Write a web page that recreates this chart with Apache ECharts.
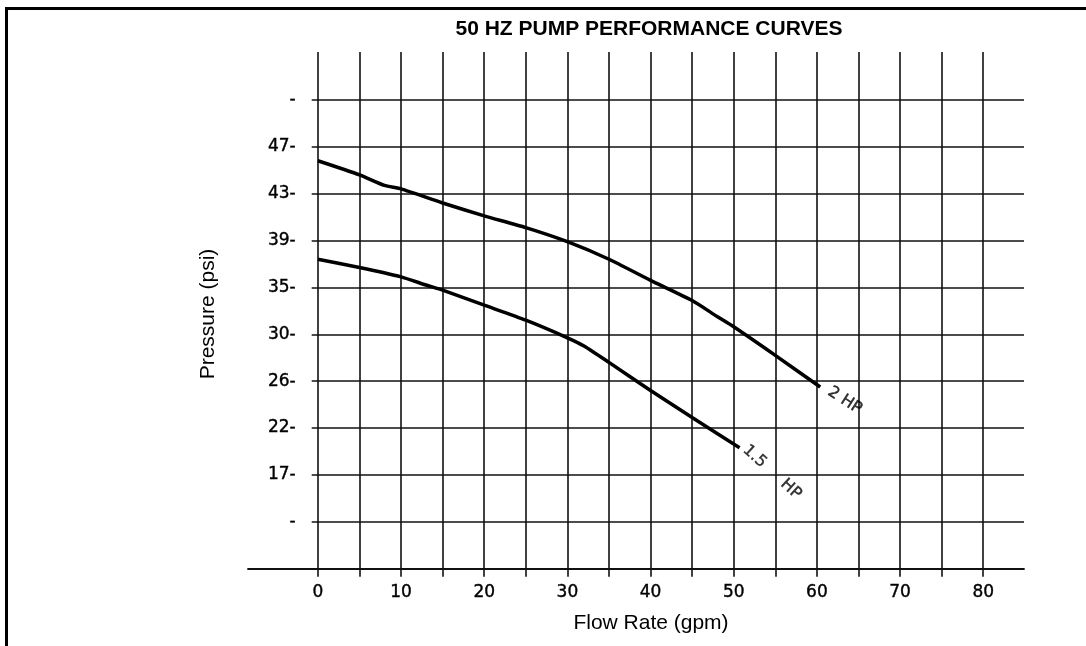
<!DOCTYPE html>
<html><head><meta charset="utf-8">
<script src="https://cdn.jsdelivr.net/npm/echarts@6/dist/echarts.min.js"></script>
<style>
html,body{margin:0;padding:0;background:#fff;}
#wrap{position:relative;width:1086px;height:646px;overflow:hidden;background:#fff;}
#c{position:absolute;left:0;top:0;width:1086px;height:646px;}
#frame{position:absolute;left:5px;top:7px;width:1200px;height:800px;border-left:3px solid #000;border-top:3px solid #000;pointer-events:none;}
</style>
</head><body>
<div id="wrap"><div id="c"></div><div id="frame"></div></div>
<script>
// ---- data ----
const titleText = '50 HZ PUMP PERFORMANCE CURVES';
const xName = 'Flow Rate (gpm)';
const yName = 'Pressure (psi)';
const xTickValues = [0,5,10,15,20,25,30,35,40,45,50,55,60,65,70,75,80];
const xLabelValues = [0,10,20,30,40,50,60,70,80];
const yRows = [0,1,2,3,4,5,6,7,8,9,10];
const yTickLabels = ['', '-', '17-', '22-', '26-', '30-', '35-', '39-', '43-', '47-', '-'];
const yTickPsi = [17,22,26,30,35,39,43,47];   // psi values printed on rows 2..9
const yTickRowStart = 2;

const flow2hp = [0, 5, 8, 10, 15, 20, 25, 30, 35, 40, 45, 48, 50, 55, 60.4];
const psi2hp  = [45.8, 44.6, 43.7, 43.4, 42.2, 41.1, 40.1, 38.9, 37.4, 35.6, 33.6, 31.9, 30.8, 28.2, 25.5];
const flow15hp = [0, 5, 10, 13, 15, 20, 25, 30, 32, 35, 40, 45, 50.7];
const psi15hp  = [37.4, 36.7, 35.9, 35.2, 34.7, 33.1, 31.5, 29.7, 29.0, 27.6, 25.2, 22.9, 19.9];
const label2hp = '2 HP';
const label15hp = '1.5     HP';

// psi -> row position on the (non-linear) printed pressure scale
function psiToRow(p) {
  for (let i = 0; i < yTickPsi.length - 1; i++) {
    const a = yTickPsi[i], b = yTickPsi[i + 1];
    if (p <= b || i === yTickPsi.length - 2) {
      return yTickRowStart + i + (p - a) / (b - a);
    }
  }
}
const pts = (fx, py) => fx.map((f, i) => [f, psiToRow(py[i])]);

const gridCol = '#111';
const tickFont = {color: '#000', fontFamily: 'DejaVu Sans', fontSize: 17, textBorderColor: '#000', textBorderWidth: 0.4};
const chart = echarts.init(document.getElementById('c'), null, {renderer: 'canvas'});
chart.setOption({
  animation: false,
  backgroundColor: 'transparent',
  grid: [
    {left: 311.7, right: 62, top: 52, bottom: 77.3},
    {left: 248, right: 62, top: 52, bottom: 77.3}
  ],
  xAxis: [
    {
      type: 'value', gridIndex: 0, min: -0.74, max: 84.9,
      axisLine: {show: false},
      axisTick: {show: true, customValues: xTickValues, length: 8, lineStyle: {color: gridCol, width: 1.6}},
      axisLabel: Object.assign({customValues: xLabelValues, margin: 15}, tickFont),
      splitLine: {show: true, lineStyle: {color: gridCol, width: 1.6}}
    },
    {
      type: 'value', gridIndex: 1, min: 0, max: 1,
      axisLine: {show: true, lineStyle: {color: gridCol, width: 1.8}},
      axisTick: {show: false}, axisLabel: {show: false}, splitLine: {show: false}
    }
  ],
  yAxis: [
    {
      type: 'value', gridIndex: 0, min: 0, max: 11.02,
      axisLine: {show: false},
      axisTick: {show: false, customValues: yRows},
      axisLabel: Object.assign({customValues: yRows.slice(1), formatter: v => yTickLabels[Math.round(v)], margin: 16}, tickFont),
      splitLine: {show: true, lineStyle: {color: gridCol, width: 1.6}}
    },
    {type: 'value', gridIndex: 1, min: 0, max: 1, show: false}
  ],
  series: [
    {
      type: 'line', name: '2 HP', xAxisIndex: 0, yAxisIndex: 0, data: pts(flow2hp, psi2hp),
      symbol: 'none', smooth: 0.2, lineStyle: {color: '#000', width: 3.5}, z: 5
    },
    {
      type: 'line', name: '1.5 HP', xAxisIndex: 0, yAxisIndex: 0, data: pts(flow15hp, psi15hp),
      symbol: 'none', smooth: 0.2, lineStyle: {color: '#000', width: 3.5}, z: 5
    },
    {
      type: 'scatter', xAxisIndex: 0, yAxisIndex: 0, symbolSize: 1, itemStyle: {color: 'rgba(0,0,0,0)'},
      silent: true, z: 6,
      data: [
        {value: [flow2hp[flow2hp.length - 1], psiToRow(psi2hp[psi2hp.length - 1])],
         label: {show: true, formatter: label2hp, position: [25, 14], rotate: -33, align: 'center', verticalAlign: 'middle'}},
        {value: [flow15hp[flow15hp.length - 1], psiToRow(psi15hp[psi15hp.length - 1])],
         label: {show: true, formatter: label15hp, position: [33, 25], rotate: -42, align: 'center', verticalAlign: 'middle'}}
      ],
      label: {color: '#000', fontFamily: 'DejaVu Sans', fontSize: 16, textBorderColor: '#000', textBorderWidth: 0.4}
    }
  ],
  graphic: [
    {type: 'text', x: 649, y: 29, style: {text: titleText, fill: '#000', font: 'bold 21px "Liberation Sans"',
      align: 'center', verticalAlign: 'middle', textAlign: 'center', textVerticalAlign: 'middle'}},
    {type: 'text', x: 651, y: 623, style: {text: xName, fill: '#000', font: '21px "Liberation Sans"',
      align: 'center', verticalAlign: 'middle', textAlign: 'center', textVerticalAlign: 'middle'}},
    {type: 'text', x: 208, y: 314, rotation: Math.PI / 2, style: {text: yName, fill: '#000', font: '21px "Liberation Sans"',
      align: 'center', verticalAlign: 'middle', textAlign: 'center', textVerticalAlign: 'middle'}}
  ]
});
</script>
</body></html>
